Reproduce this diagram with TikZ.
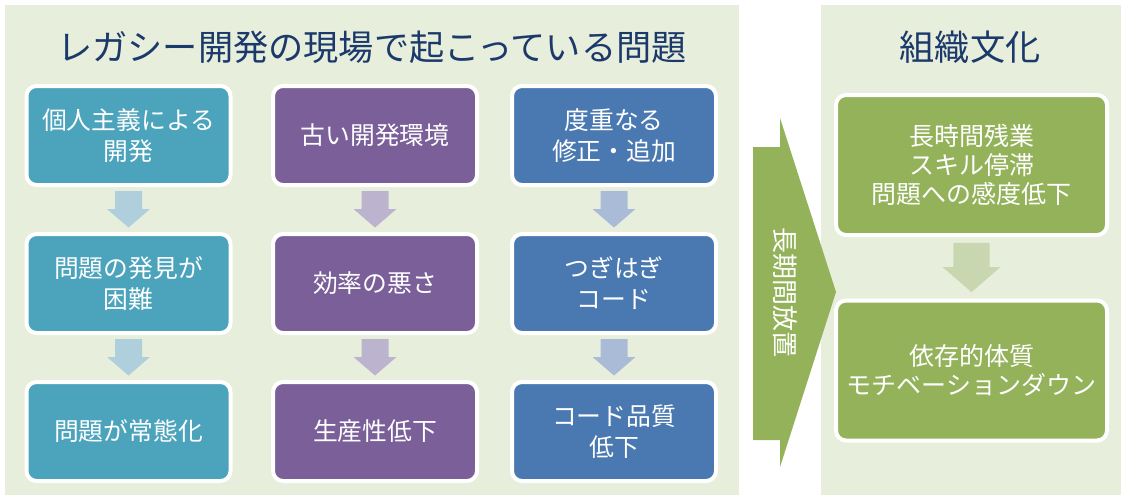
\documentclass[tikz,border=0pt]{standalone}
\usepackage{fontspec}
\setmainfont{Noto Sans CJK JP}
\usepackage{xcolor}
\usepackage{tikz}
\usetikzlibrary{
    positioning,
    calc
}
\definecolor{panelbg}{HTML}{E8EEDC}
\definecolor{navytext}{HTML}{1B3A6B}
\definecolor{boxteal}{HTML}{4BA3BC}
\definecolor{arrowteal}{HTML}{AFCFDC}
\definecolor{boxpurple}{HTML}{7A5F98}
\definecolor{arrowpurple}{HTML}{BCB3CF}
\definecolor{boxblue}{HTML}{4A79B1}
\definecolor{arrowblue}{HTML}{AABBD8}
\definecolor{boxgreen}{HTML}{93B25A}
\definecolor{arrowgreen}{HTML}{C8D7AF}
\tikzset{
  box/.style = {
      draw=white,
      line width=2pt,
      rounded corners=5pt,
      text=white,
      align=center,
      font=\fontsize{12.4}{15.5}\selectfont,
      minimum width=102pt,
      minimum height=49.5pt,
      inner sep=2pt
  },
  tealbox/.style = {
      box,
      fill=boxteal
  },
  purplebox/.style = {
      box,
      fill=boxpurple
  },
  bluebox/.style = {
      box,
      fill=boxblue
  },
  greenbox/.style = {
      box,
      fill=boxgreen,
      font=\fontsize{12.5}{14.5}\selectfont,
      minimum width=135.5pt,
      minimum height=70pt
  },
  heading/.style = {
      text=navytext,
      font=\fontsize{17.6}{20}\selectfont
  },
  panel/.style = {
      fill=panelbg
  }
}
% block arrow pointing down between two nodes
\newcommand{\blockdown}[4]{%
  \fill[#3] ($(#1.south)!0.5!(#2.north)$)
    ++(-13.5*#4,18.5*#4) -- ++(27*#4,0) -- ++(0,-18*#4) -- ++(8*#4,0)
    -- ++(-21.5*#4,-18.5*#4) -- ++(-21.5*#4,18.5*#4) -- ++(8*#4,0) -- cycle;}

\begin{document}
\begin{tikzpicture}[x=0.5pt, y=0.5pt, node distance=74pt]
    \useasboundingbox (0,0) rectangle (1127,500);
    % Panels
    \fill[panel] (5,5) rectangle (739,495);
    \fill[panel] (821,5) rectangle (1121,495);
    \node[heading] (title) at (372,453) {レガシー開発の現場で起こっている問題};
    \node[heading] (culture) at (970,453) {組織文化};
    % Nodes
    \node[tealbox] (t1) at (128.5,364.5) {個人主義による\\開発};
    \node[tealbox, below of=t1] (t2) {問題の発見が\\困難};
    \node[tealbox, below of=t2] (t3) {問題が常態化};
    \node[purplebox] (p1) at (375,364.5) {古い開発環境};
    \node[purplebox, below of=p1] (p2) {効率の悪さ};
    \node[purplebox, below of=p2] (p3) {生産性低下};
    \node[bluebox] (b1) at (614,364.5) {度重なる\\修正・追加};
    \node[bluebox, below of=b1] (b2) {つぎはぎ\\コード};
    \node[bluebox, below of=b2] (b3) {コード品質\\低下};
    \node[greenbox] (g1) at (971.5,335) {長時間残業\\スキル停滞\\問題への感度低下};
    \node[greenbox, node distance=102.75pt, below of=g1] (g2) {依存的体質\\モチベーションダウン};
    % Arrows
    \blockdown{t1}{t2}{arrowteal}{1}
    \blockdown{t2}{t3}{arrowteal}{1}
    \blockdown{p1}{p2}{arrowpurple}{1}
    \blockdown{p2}{p3}{arrowpurple}{1}
    \blockdown{b1}{b2}{arrowblue}{1}
    \blockdown{b2}{b3}{arrowblue}{1}
    \blockdown{g1}{g2}{arrowgreen}{1.35}
    % Big arrow
    \fill[boxgreen] (753,353) -- (780,353) -- (780,382) -- (836,208)
        -- (780,33) -- (780,60) -- (753,60) -- cycle;
    \node[rotate=-90, text=white, font=\fontsize{13}{15}\selectfont] (leave) at (785,208) {長期間放置};
\end{tikzpicture}
\end{document}
